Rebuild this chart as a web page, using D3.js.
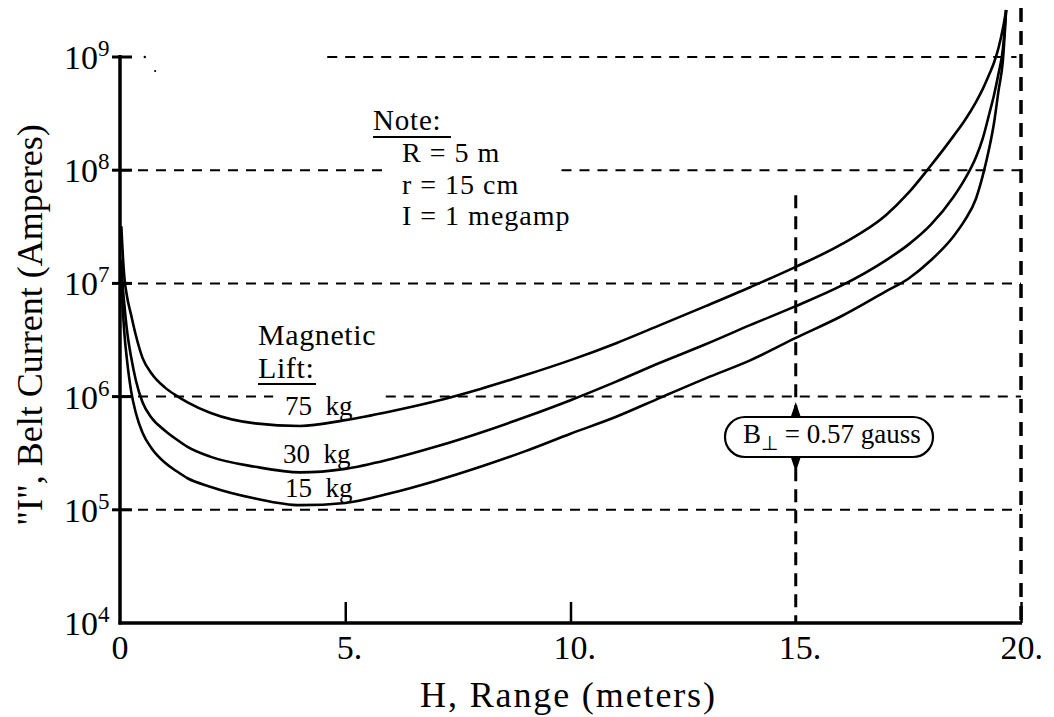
<!DOCTYPE html>
<html><head><meta charset="utf-8">
<script src="https://cdn.jsdelivr.net/npm/d3@7"></script>
<style>
body{margin:0;background:#fff;}
</style></head>
<body>
<svg id="c" width="1054" height="717"></svg>
<script>
// ---- data ----
const H = [0.03,0.05,0.1,0.15,0.25,0.35,0.5,0.7,1,1.25,1.5,2,3,4,5,6,7,8,9,10,11,12,13,14,15,16,17,17.5,18,18.5,18.75,19,19.15,19.3,19.4,19.5,19.6,19.67];
const lift75 = [3.2e7,2.2e7,1.1e7,7.9e6,5.2e6,3.5e6,2.2e6,1.6e6,1.2e6,1.02e6,8.9e5,7.2e5,5.8e5,5.5e5,6.2e5,7.4e5,9.1e5,1.17e6,1.55e6,2.1e6,2.95e6,4.3e6,6.3e6,9.3e6,1.4e7,2.2e7,4.0e7,6.3e7,1.1e8,2.0e8,2.75e8,4.0e8,5.2e8,7.1e8,8.9e8,1.2e9,1.8e9,2.6e9];
const lift30 = [1.6e7,1.1e7,6.3e6,4.0e6,2.2e6,1.4e6,8.9e5,6.5e5,5.0e5,4.2e5,3.6e5,2.95e5,2.4e5,2.14e5,2.3e5,2.8e5,3.6e5,4.8e5,6.6e5,9.3e5,1.35e6,2.0e6,2.9e6,4.3e6,6.3e6,9.5e6,1.6e7,2.2e7,3.3e7,5.8e7,8.3e7,1.3e8,1.9e8,3.2e8,4.6e8,7.1e8,1.2e9,2.6e9];
const lift15 = [1.0e7,7.1e6,3.5e6,2.2e6,1.1e6,7.2e5,4.8e5,3.5e5,2.6e5,2.2e5,1.9e5,1.6e5,1.26e5,1.1e5,1.15e5,1.4e5,1.8e5,2.4e5,3.3e5,4.7e5,6.6e5,9.8e5,1.45e6,2.1e6,3.3e6,5.1e6,8.5e6,1.1e7,1.6e7,2.6e7,3.6e7,5.6e7,8.9e7,1.6e8,2.6e8,5.0e8,9.5e8,2.6e9];
const seriesLabels = ["75  kg","30  kg","15  kg"];
const yTicks = [1e4,1e5,1e6,1e7,1e8,1e9];
const yExp = ["4","5","6","7","8","9"];
const xTicks = [0,5,10,15,20];
const xTickLabels = ["0","5.","10.","15.","20."];
const noteLines = ["R = 5 m","r = 15 cm","I = 1 megamp"];
const bPerp = 0.57;

const FONT = "\"Liberation Serif\"";

// ---- scales ----
const svg = d3.select("#c");
const x = d3.scaleLinear().domain([0,20]).range([120,1021]);
const y = d3.scaleLog().domain([1e4,1e9]).range([623,57]);

function txt(xx, yy, size){
  return svg.append("text").attr("x",xx).attr("y",yy).attr("font-size",size)
    .style("font-family",FONT).attr("fill","#000");
}

// ---- dashed grid lines ----
const g = svg.append("g").attr("stroke","#000").attr("stroke-width",2).attr("stroke-dasharray","10,8").attr("fill","none");
const gridSegs = [
  [1e9,4.6,19.9],[1e8,0,5.9],[1e8,9.8,20],[1e7,0,20],[1e6,0,3.4],[1e6,5.9,20],[1e5,0,20]
];
gridSegs.forEach(s=>{
  g.append("line").attr("x1",x(s[1])).attr("x2",x(s[2])).attr("y1",y(s[0])).attr("y2",y(s[0]));
});
svg.append("circle").attr("cx",x(0.55)).attr("cy",y(1e9)).attr("r",1.2);
svg.append("circle").attr("cx",x(0.78)).attr("cy",y(1e9)+14).attr("r",1.1);

// vertical dashed lines
svg.append("line").attr("x1",x(15)).attr("x2",x(15)).attr("y1",y(6e7)).attr("y2",y(1e4))
  .attr("stroke","#000").attr("stroke-width",3).attr("stroke-dasharray","13,8");
svg.append("line").attr("x1",x(20)).attr("x2",x(20)).attr("y1",8).attr("y2",y(1e4))
  .attr("stroke","#000").attr("stroke-width",3.5).attr("stroke-dasharray","14,9");

// ---- axes ----
const yAxis = d3.axisLeft(y).tickValues(yTicks.slice(1)).tickSize(0).tickFormat("");
const ya = svg.append("g").attr("transform",`translate(${x(0)},0)`).call(yAxis);
ya.select(".domain").attr("stroke","#000").attr("stroke-width",3.5).attr("d",`M0,${y(1e9)-2}V${y(1e4)+1.5}`);
yTicks.slice(1).forEach(v=>{
  svg.append("line").attr("x1",x(0)-8).attr("x2",x(0)+12).attr("y1",y(v)).attr("y2",y(v)).attr("stroke","#000").attr("stroke-width",3);
});
const xAxis = d3.axisBottom(x).tickValues([5,10,20]).tickSize(-21).tickFormat("");
const xa = svg.append("g").attr("transform",`translate(0,${y(1e4)})`).call(xAxis);
xa.select(".domain").attr("stroke","#000").attr("stroke-width",3.5).attr("d",`M${x(0)-1.5},0H${x(20)+1}`);
xa.selectAll(".tick line").attr("stroke","#000").attr("stroke-width",2.5);

// y tick labels
yTicks.forEach((v,i)=>{
  const t = txt(x(0)-56, y(v)+12, 34);
  t.append("tspan").text("10");
  t.append("tspan").attr("font-size",23).attr("dy",-13).text(yExp[i]);
});
// x tick labels
xTicks.forEach((v,i)=>{
  const xx = x(v);
  const t = txt(0, 659, 34);
  if(i===0){ t.attr("x",xx).attr("text-anchor","middle"); }
  else if(i===xTicks.length-1){ t.attr("x",xx+22).attr("text-anchor","end"); }
  else { const dw = (xTickLabels[i].length-1)*8.5; t.attr("x",xx-dw).attr("text-anchor","start"); }
  t.text(xTickLabels[i]);
});

// axis titles
txt(420, 707, 36).attr("textLength",295).text("H, Range (meters)");
svg.append("text").attr("transform","translate(42,325) rotate(-90)").attr("text-anchor","middle").attr("font-size",36)
  .style("font-family",FONT).text("\"I\", Belt Current (Amperes)");

// ---- curves ----
const line = d3.line().x((d,i)=>x(H[i])).y(d=>y(d)).curve(d3.curveMonotoneX);
[lift75,lift30,lift15].forEach(s=>{
  svg.append("path").attr("d",line(s)).attr("fill","none").attr("stroke","#000").attr("stroke-width",2.6);
});

// curve labels
const labelXY = [[285,415],[283,463],[285,497]];
seriesLabels.forEach((s,i)=>{
  txt(labelXY[i][0], labelXY[i][1], 27).attr("xml:space","preserve").style("white-space","pre").text(s);
});

// Magnetic Lift
txt(258, 345, 30).style("letter-spacing","0.6px").text("Magnetic");
txt(258, 378, 30).style("letter-spacing","0.6px").text("Lift:");
svg.append("line").attr("x1",258).attr("x2",316).attr("y1",384).attr("y2",384).attr("stroke","#000").attr("stroke-width",2);

// Note
txt(373, 130, 29).style("letter-spacing","0.8px").text("Note:");
svg.append("line").attr("x1",373).attr("x2",451).attr("y1",137).attr("y2",137).attr("stroke","#000").attr("stroke-width",2);
noteLines.forEach((s,i)=>{
  txt(402, 162+i*31.5, 28).style("letter-spacing","1px").text(s);
});

// B-perp box
const bx = x(15);
svg.append("rect").attr("x",725).attr("y",417).attr("width",208).attr("height",40).attr("rx",20).attr("ry",20)
  .attr("fill","#fff").attr("stroke","#000").attr("stroke-width",2.2);
svg.append("path").attr("d",`M${bx},402L${bx+5},417L${bx-5},417Z`).attr("fill","#000");
svg.append("path").attr("d",`M${bx},472L${bx+5},457L${bx-5},457Z`).attr("fill","#000");
const bt = txt(743, 443, 27);
bt.append("tspan").text("B");
bt.append("tspan").attr("font-size",20).attr("dy",7).text("\u22A5");
bt.append("tspan").attr("dy",-7).text(" = " + bPerp.toFixed(2) + " gauss");
</script>
</body></html>
